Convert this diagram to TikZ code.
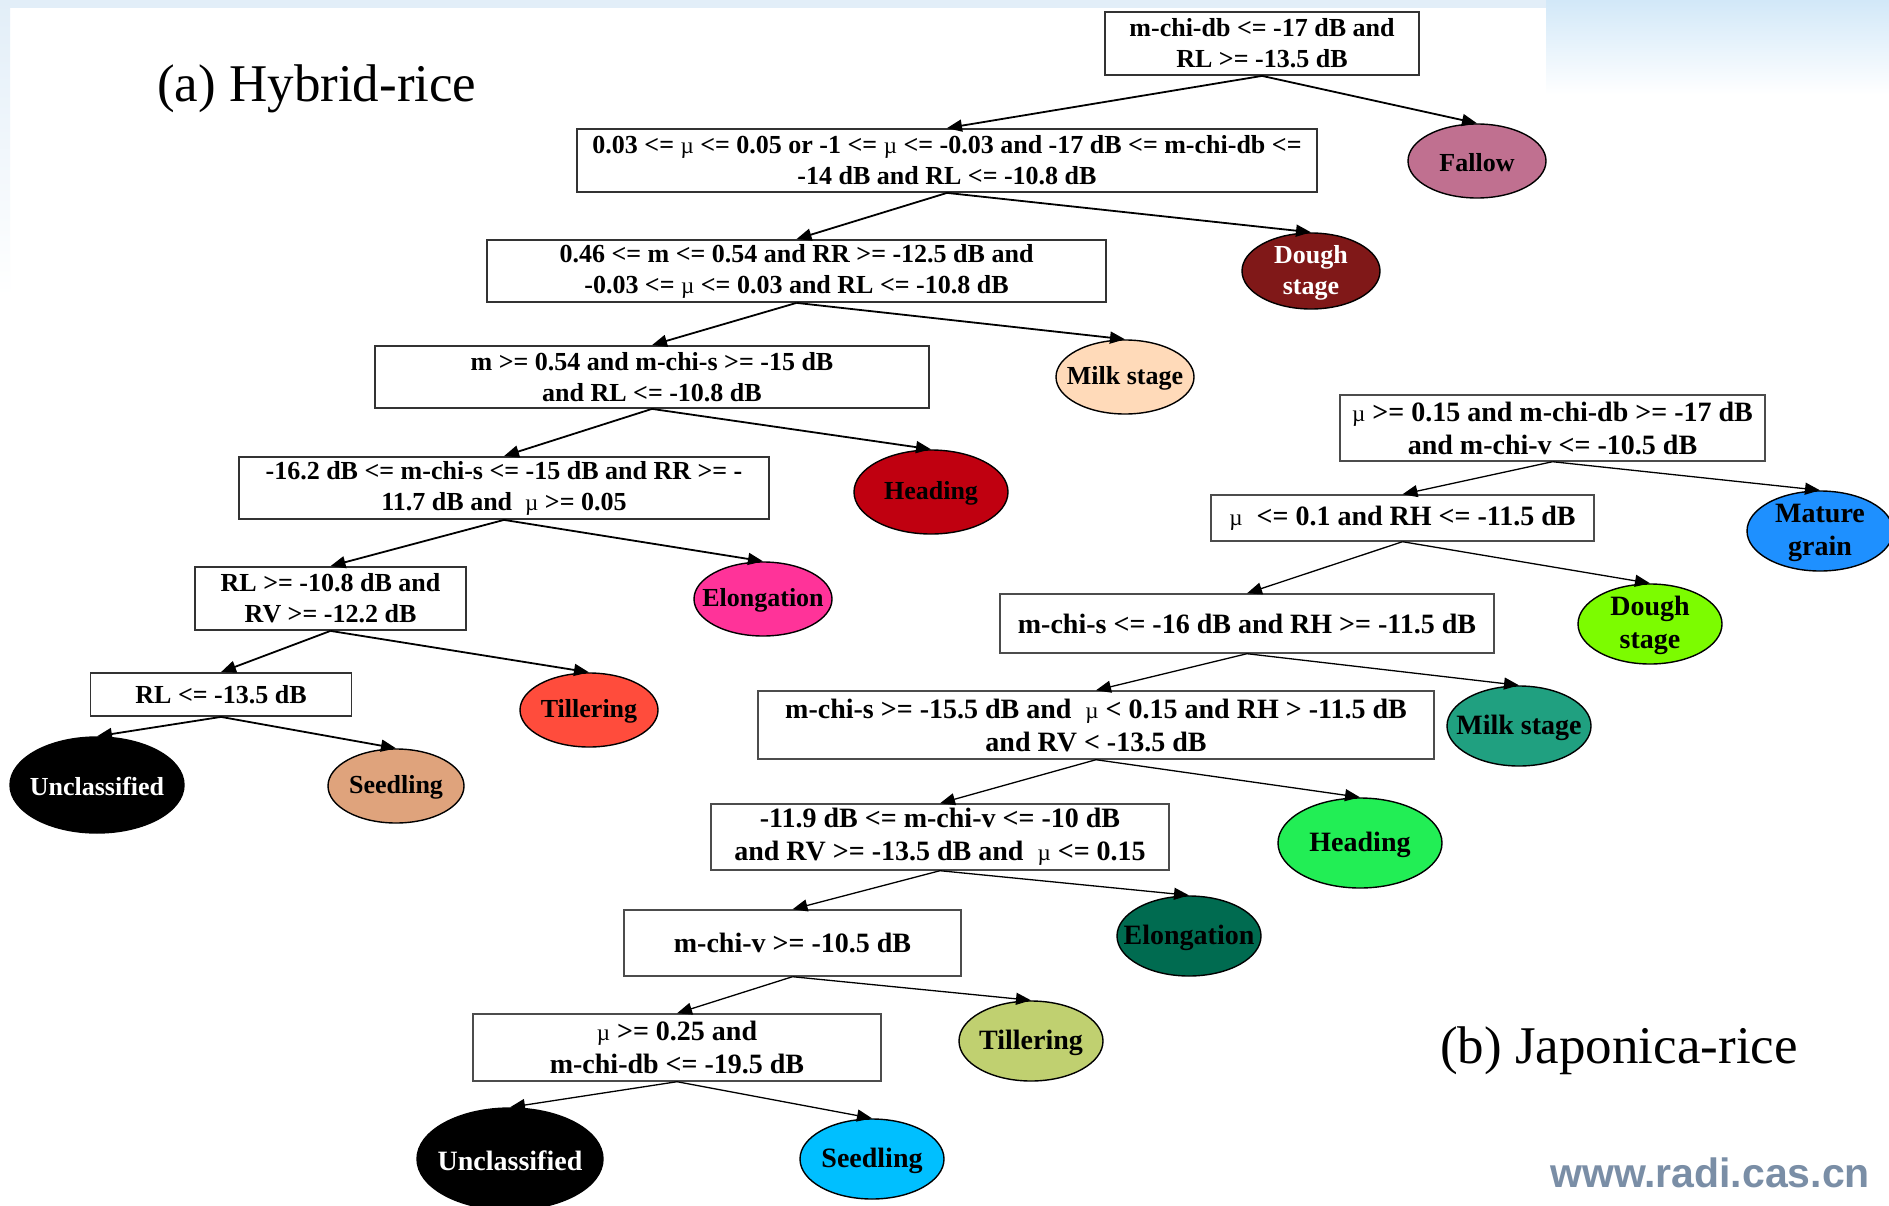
\documentclass[tikz,border=0pt]{standalone}
\usepackage{fontspec}
\setmainfont{Liberation Serif}
\newfontfamily\wmfont{Liberation Sans}
\usetikzlibrary{arrows.meta,shapes.geometric}
\definecolor{bgblue}{HTML}{E2EEF8}
\definecolor{bgblueB}{HTML}{D2E8F8}
\definecolor{wmgray}{HTML}{7A8EA6}
\definecolor{cFallow}{HTML}{C07090}
\definecolor{cHDough}{HTML}{801818}
\definecolor{cHMilk}{HTML}{FFDAB9}
\definecolor{cHHead}{HTML}{C00010}
\definecolor{cHElong}{HTML}{FF3399}
\definecolor{cHTill}{HTML}{FF4C3C}
\definecolor{cHSeed}{HTML}{DFA37C}
\definecolor{cJMature}{HTML}{1E90FF}
\definecolor{cJDough}{HTML}{7CFC00}
\definecolor{cJMilk}{HTML}{20A080}
\definecolor{cJHead}{HTML}{22EE55}
\definecolor{cJElong}{HTML}{006B50}
\definecolor{cJTill}{HTML}{C0D070}
\definecolor{cJSeed}{HTML}{00BFFF}
\newcommand\hyfont{\fontsize{26}{31}\selectfont\bfseries}
\newcommand\jpfont{\fontsize{28}{33}\selectfont\bfseries}
\newcommand\mumu{{\fontsize{23}{23}\selectfont\mdseries µ}}
\tikzset{
  hbox/.style={draw=black!80, line width=1.8pt, fill=white, rectangle, inner sep=0pt, align=center, font=\hyfont},
  jbox/.style={draw=black!70, line width=1.4pt, fill=white, rectangle, inner sep=0pt, align=center, font=\jpfont},
  hl/.style={draw=black, line width=1.4pt, ellipse, inner sep=0pt},
  hlab/.style={font=\hyfont, align=center, inner sep=0pt, yshift=-1.5pt},
  jlab/.style={font=\jpfont, align=center, inner sep=0pt, yshift=-1.5pt},
  hedge/.style={line width=1.8pt, -{Triangle[length=15pt,width=12pt]}},
  jedge/.style={line width=1.3pt, -{Triangle[length=15pt,width=12pt]}},
}
\begin{document}
\begin{tikzpicture}[x=1pt,y=-1pt]
\useasboundingbox (0,0) rectangle (1889,1206);
% background
\fill[white] (0,0) rectangle (1889,1206);
\fill[bgblue] (0,0) rectangle (1889,8);
\shade[top color=bgblueB, bottom color=white] (1546,0) rectangle (1889,95);
\shade[top color=bgblue, bottom color=white] (0,0) rectangle (10,297);
% titles
\node[anchor=base west, font=\fontsize{53}{60}\selectfont, inner sep=0pt] (ta) at (157,102) {(a) Hybrid-rice};
\node[anchor=base west, font=\fontsize{53}{60}\selectfont, inner sep=0pt] (tb) at (1440,1063) {(b) Japonica-rice};
\node[anchor=base west, font=\wmfont\bfseries\fontsize{41}{41}\selectfont, text=wmgray, inner sep=0pt] (wm) at (1550,1187) {www.radi.cas.cn};

% ---------- Hybrid rice ----------
\node[hbox, minimum width=314pt, minimum height=63pt] (h1) at (1262,43.5) {m-chi-db <= -17 dB and\\RL >= -13.5 dB};
\node[hl, fill=cFallow, minimum width=138pt, minimum height=74pt, label={[hlab]center:Fallow}] (hFallow) at (1477,161) {};
\node[hbox, minimum width=740pt, minimum height=63pt] (h2) at (947,160.5) {0.03 <= \mumu{} <= 0.05 or -1 <= \mumu{} <= -0.03 and -17 dB <= m-chi-db <=\\-14 dB and RL <= -10.8 dB};
\node[hl, fill=cHDough, minimum width=138pt, minimum height=76pt, label={[hlab, text=white]center:Dough\\stage}] (hDough) at (1311,271) {};
\node[hbox, minimum width=619pt, minimum height=62pt] (h3) at (796.5,271) {0.46 <= m <= 0.54 and RR >= -12.5 dB and\\-0.03 <= \mumu{} <= 0.03 and RL <= -10.8 dB};
\node[hl, fill=cHMilk, minimum width=138pt, minimum height=74pt, label={[hlab]center:Milk stage}] (hMilk) at (1125,377) {};
\node[hbox, minimum width=554pt, minimum height=62pt] (h4) at (652,377) {m >= 0.54 and m-chi-s >= -15 dB\\and RL <= -10.8 dB};
\node[hl, fill=cHHead, minimum width=154pt, minimum height=84pt, label={[hlab]center:Heading}] (hHead) at (931,492) {};
\node[hbox, minimum width=530pt, minimum height=62pt] (h5) at (504,488) {-16.2 dB <= m-chi-s <= -15 dB and RR >= -\\11.7 dB and \ \mumu{} >= 0.05};
\node[hl, fill=cHElong, minimum width=138pt, minimum height=74pt, label={[hlab]center:Elongation}] (hElong) at (763,599) {};
\node[hbox, minimum width=271pt, minimum height=63pt] (h6) at (330.5,598.5) {RL >= -10.8 dB and\\RV >= -12.2 dB};
\node[hl, fill=cHTill, minimum width=138pt, minimum height=74pt, label={[hlab]center:Tillering}] (hTill) at (589,710) {};
\node[hbox, minimum width=261pt, minimum height=43pt] (h7) at (221,694.5) {RL <= -13.5 dB};
\node[hl, fill=black, minimum width=174pt, minimum height=96pt, label={[hlab, text=white]center:Unclassified}] (hUncl) at (97,785) {};
\node[hl, fill=cHSeed, minimum width=136pt, minimum height=74pt, label={[hlab]center:Seedling}] (hSeed) at (396,786) {};

\draw[hedge] (h1.south) -- (h2.north);
\draw[hedge] (h1.south) -- (hFallow.north);
\draw[hedge] (h2.south) -- (h3.north);
\draw[hedge] (h2.south) -- (hDough.north);
\draw[hedge] (h3.south) -- (h4.north);
\draw[hedge] (h3.south) -- (hMilk.north);
\draw[hedge] (h4.south) -- (h5.north);
\draw[hedge] (h4.south) -- (hHead.north);
\draw[hedge] (h5.south) -- (h6.north);
\draw[hedge] (h5.south) -- (hElong.north);
\draw[hedge] (h6.south) -- (h7.north);
\draw[hedge] (h6.south) -- (hTill.north);
\draw[hedge] (h7.south) -- (hUncl.north);
\draw[hedge] (h7.south) -- (hSeed.north);

% ---------- Japonica rice ----------
\node[jbox, minimum width=425pt, minimum height=66pt] (j1) at (1552.5,428) {\mumu{} >= 0.15 and m-chi-db >= -17 dB\\and m-chi-v <= -10.5 dB};
\node[hl, fill=cJMature, minimum width=146pt, minimum height=80pt, label={[jlab]center:Mature\\grain}] (jMature) at (1820,531) {};
\node[jbox, minimum width=383pt, minimum height=46pt] (j2) at (1402.5,518) {\mumu{}\ \ <= 0.1 and RH <= -11.5 dB};
\node[hl, fill=cJDough, minimum width=144pt, minimum height=80pt, label={[jlab]center:Dough\\stage}] (jDough) at (1650,624) {};
\node[jbox, minimum width=494pt, minimum height=59pt] (j3) at (1247,623.5) {m-chi-s <= -16 dB and RH >= -11.5 dB};
\node[hl, fill=cJMilk, minimum width=144pt, minimum height=80pt, label={[jlab]center:Milk stage}] (jMilk) at (1519,726) {};
\node[jbox, minimum width=676pt, minimum height=68pt] (j4) at (1096,725) {m-chi-s >= -15.5 dB and \ \mumu{} < 0.15 and RH > -11.5 dB\\and RV < -13.5 dB};
\node[hl, fill=cJHead, minimum width=164pt, minimum height=90pt, label={[jlab]center:Heading}] (jHead) at (1360,843) {};
\node[jbox, minimum width=458pt, minimum height=66pt] (j5) at (940,837) {-11.9 dB <= m-chi-v <= -10 dB\\and RV >= -13.5 dB and \ \mumu{} <= 0.15};
\node[hl, fill=cJElong, minimum width=144pt, minimum height=80pt, label={[jlab]center:Elongation}] (jElong) at (1189,936) {};
\node[jbox, minimum width=337pt, minimum height=66pt] (j6) at (792.5,943) {m-chi-v >= -10.5 dB};
\node[hl, fill=cJTill, minimum width=144pt, minimum height=80pt, label={[jlab]center:Tillering}] (jTill) at (1031,1041) {};
\node[jbox, minimum width=408pt, minimum height=67pt] (j7) at (677,1047.5) {\mumu{} >= 0.25 and\\m-chi-db <= -19.5 dB};
\node[hl, fill=black, minimum width=186pt, minimum height=102pt, label={[jlab, text=white]center:Unclassified}] (jUncl) at (510,1159) {};
\node[hl, fill=cJSeed, minimum width=144pt, minimum height=80pt, label={[jlab]center:Seedling}] (jSeed) at (872,1159) {};

\draw[jedge] (j1.south) -- (j2.north);
\draw[jedge] (j1.south) -- (jMature.north);
\draw[jedge] (j2.south) -- (j3.north);
\draw[jedge] (j2.south) -- (jDough.north);
\draw[jedge] (j3.south) -- (j4.north);
\draw[jedge] (j3.south) -- (jMilk.north);
\draw[jedge] (j4.south) -- (j5.north);
\draw[jedge] (j4.south) -- (jHead.north);
\draw[jedge] (j5.south) -- (j6.north);
\draw[jedge] (j5.south) -- (jElong.north);
\draw[jedge] (j6.south) -- (j7.north);
\draw[jedge] (j6.south) -- (jTill.north);
\draw[jedge] (j7.south) -- (jUncl.north);
\draw[jedge] (j7.south) -- (jSeed.north);
\end{tikzpicture}
\end{document}
